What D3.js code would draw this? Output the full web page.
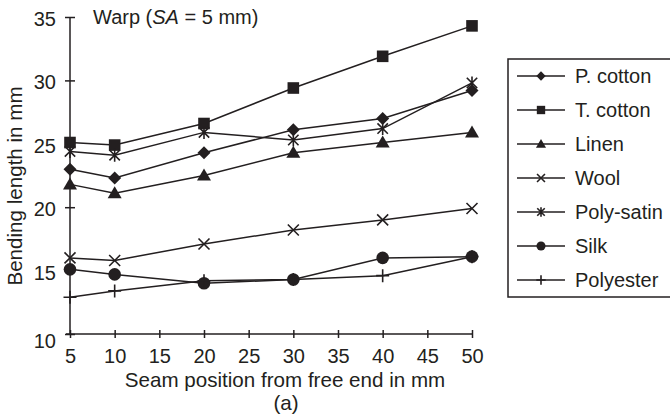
<!DOCTYPE html>
<html>
<head>
<meta charset="utf-8">
<script src="https://cdn.jsdelivr.net/npm/d3@7/dist/d3.min.js"></script>
<style>
  html, body { margin: 0; padding: 0; background: #fff; }
  svg { display: block; }
  text { font-family: "Liberation Sans", Arial, sans-serif; fill: #231f20; }
</style>
</head>
<body>
<svg id="chart" width="670" height="418"></svg>
<script>
const positions = [5, 10, 20, 30, 40, 50];
const seriesNames = ["P. cotton", "T. cotton", "Linen", "Wool", "Poly-satin", "Silk", "Polyester"];
const markerTypes = ["diamond", "square", "triangle", "x", "asterisk", "circle", "plus"];
const pCotton   = [23.0, 22.3, 24.3, 26.1, 27.0, 29.2];
const tCotton   = [25.1, 24.9, 26.6, 29.4, 31.9, 34.3];
const linen     = [21.8, 21.1, 22.5, 24.3, 25.1, 25.9];
const wool      = [16.0, 15.8, 17.1, 18.2, 19.0, 19.9];
const polySatin = [24.4, 24.1, 25.9, 25.3, 26.2, 29.8];
const silk      = [15.1, 14.7, 14.0, 14.3, 16.0, 16.1];
const polyester = [12.9, 13.4, 14.2, 14.3, 14.6, 16.1];
const xTicks = [5, 10, 15, 20, 25, 30, 35, 40, 45, 50];
const yTicks = [10, 15, 20, 25, 30, 35];
const titleText = "Warp";
const xTitle = "Seam position from free end in mm";
const yTitle = "Bending length in mm";
const panelLabel = "(a)";

const values = [pCotton, tCotton, linen, wool, polySatin, silk, polyester];
const series = seriesNames.map((name, i) => ({
  name, type: markerTypes[i],
  points: positions.map((p, j) => ({ x: p, y: values[i][j] }))
}));

const ink = "#231f20";
const svg = d3.select("#chart");
const x = d3.scaleLinear().domain([5, 50]).range([70, 472]);
const y = d3.scaleLinear().domain([10, 35]).range([334, 17]);

// axes
const gx = svg.append("g").attr("transform", `translate(0,${y(10)})`)
  .call(d3.axisBottom(x).tickValues(xTicks).tickSizeInner(4).tickSizeOuter(0).tickPadding(11));
gx.select(".domain").attr("d", `M${x(5) - 4},0H${x(50)}`);
gx.selectAll(".tick line").attr("y1", -4).attr("y2", 4);
const gy = svg.append("g").attr("transform", `translate(${x(5)},0)`)
  .call(d3.axisLeft(y).tickValues(yTicks).tickSizeInner(5).tickSizeOuter(0).tickPadding(9));
gy.select(".domain").attr("d", `M0,${y(35)}V${y(10)}`);
gy.selectAll(".tick line").attr("x1", -5).attr("x2", 5);
gy.selectAll(".tick text").attr("dy", d => d === 10 ? "0.65em" : "0.42em");
[gx, gy].forEach(g => {
  g.selectAll(".domain, .tick line").attr("stroke", ink).attr("stroke-width", 1.5);
  g.selectAll(".tick text").attr("font-size", 20).attr("fill", ink)
    .attr("font-family", '"Liberation Sans", Arial, sans-serif');
});

// titles
const t = svg.append("text").attr("x", 93).attr("y", 24).attr("font-size", 20);
t.append("tspan").text(titleText + " (");
t.append("tspan").attr("font-style", "italic").text("SA");
t.append("tspan").text(" = 5 mm)");
svg.append("text").attr("x", 285).attr("y", 387).attr("text-anchor", "middle")
  .attr("font-size", 20.6).text(xTitle);
svg.append("text").attr("x", 286).attr("y", 410).attr("text-anchor", "middle")
  .attr("font-size", 20.6).text(panelLabel);
svg.append("text").attr("transform", `translate(22,186) rotate(-90)`)
  .attr("text-anchor", "middle").attr("font-size", 20.6).text(yTitle);

// marker drawing
function drawMarker(g, type, cx, cy, s) {
  const st = { stroke: ink, "stroke-width": 1.6, fill: "none" };
  const apply = (el, attrs) => { Object.entries(attrs).forEach(([k, v]) => el.attr(k, v)); return el; };
  if (type === "diamond") {
    const r = 6.5 * s;
    g.append("path").attr("d", `M${cx},${cy - r}L${cx + r},${cy}L${cx},${cy + r}L${cx - r},${cy}Z`).attr("fill", ink);
  } else if (type === "square") {
    const r = 5.8 * s;
    g.append("rect").attr("x", cx - r).attr("y", cy - r).attr("width", 2 * r).attr("height", 2 * r).attr("fill", ink);
  } else if (type === "triangle") {
    const r = 7 * s;
    g.append("path").attr("d", `M${cx},${cy - r}L${cx + r},${cy + r * 0.72}L${cx - r},${cy + r * 0.72}Z`).attr("fill", ink);
  } else if (type === "circle") {
    g.append("circle").attr("cx", cx).attr("cy", cy).attr("r", 6.3 * s).attr("fill", ink);
  } else if (type === "x") {
    const r = 5.5 * s;
    apply(g.append("path").attr("d", `M${cx - r},${cy - r}L${cx + r},${cy + r}M${cx - r},${cy + r}L${cx + r},${cy - r}`), st);
  } else if (type === "plus") {
    const r = 6.5 * s;
    apply(g.append("path").attr("d", `M${cx - r},${cy}L${cx + r},${cy}M${cx},${cy - r}L${cx},${cy + r}`), st);
  } else if (type === "asterisk") {
    const r = 6.5 * s, a = r * 0.8;
    apply(g.append("path").attr("d",
      `M${cx},${cy - r}L${cx},${cy + r}M${cx - a},${cy - a}L${cx + a},${cy + a}M${cx - a},${cy + a}L${cx + a},${cy - a}`), st);
  }
}

// lines
const line = d3.line().x(d => x(d.x)).y(d => y(d.y));
const plot = svg.append("g");
series.forEach(s => {
  plot.append("path").datum(s.points).attr("d", line)
    .attr("fill", "none").attr("stroke", ink).attr("stroke-width", 1.5);
});
series.forEach(s => {
  const g = plot.append("g");
  s.points.forEach(p => drawMarker(g, s.type, x(p.x), y(p.y), 1));
});

// legend
const legTop = 59, legBottom = 297, legLeft = 508;
svg.append("rect").attr("x", legLeft).attr("y", legTop).attr("width", 170).attr("height", legBottom - legTop)
  .attr("fill", "none").attr("stroke", ink).attr("stroke-width", 1.5);
const rowY = d3.scalePoint().domain(seriesNames).range([76, 280]);
series.forEach(s => {
  const cy = rowY(s.name);
  const g = svg.append("g");
  g.append("line").attr("x1", 517).attr("x2", 565).attr("y1", cy).attr("y2", cy)
    .attr("stroke", ink).attr("stroke-width", 1.5);
  drawMarker(g, s.type, 541, cy, 0.72);
  g.append("text").attr("x", 575).attr("y", cy).attr("dy", "0.36em").attr("font-size", 20).text(s.name);
});
</script>
</body>
</html>
